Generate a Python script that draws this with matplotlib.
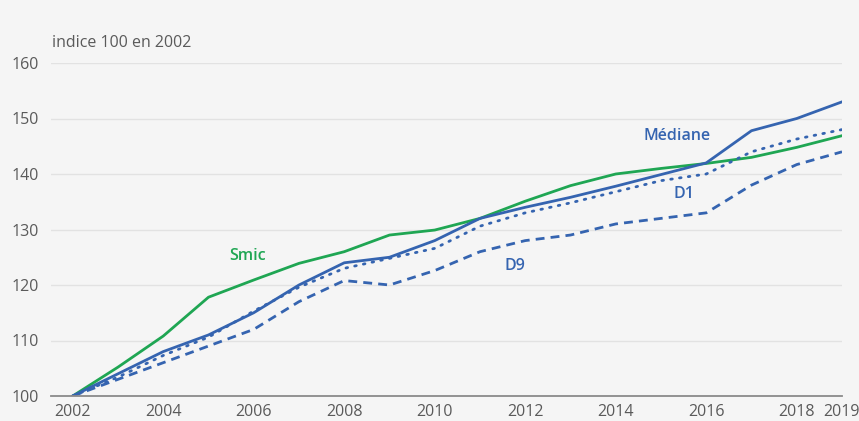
import matplotlib
matplotlib.use("Agg")
import matplotlib.pyplot as plt

plt.rcParams['font.family'] = ['Open Sans', 'DejaVu Sans']

years = list(range(2002, 2020))
smic = [100, 105.2, 110.8, 117.8, 120.9, 123.9, 126, 129, 129.9, 132, 135.1, 137.9, 140, 141, 141.9, 143, 144.8, 146.9]
mediane = [100, 104, 108, 111, 115, 120, 124, 125, 128, 132, 134, 135.8, 137.8, 139.9, 142, 147.8, 150, 153]
d1 = [100, 103.4, 107.3, 110.6, 115.3, 119.6, 123, 124.8, 126.6, 130.6, 133, 134.8, 136.8, 138.8, 140, 144, 146.3, 148]
d9 = [100, 103, 106, 109, 112, 117, 120.8, 120, 122.6, 126, 128, 129, 131, 132, 133, 138, 141.7, 144]
xticks = [2002, 2004, 2006, 2008, 2010, 2012, 2014, 2016, 2018, 2019]
yticks = [100, 110, 120, 130, 140, 150, 160]

GREEN = '#1fa653'
BLUE = '#3564b0'
TXT = '#5a5a5a'
BG = '#f5f5f5'
FS = 11.5

W, H = 859, 421
fig = plt.figure(figsize=(W / 100, H / 100), dpi=100, facecolor=BG)
ax = fig.add_axes([51 / W, (H - 396) / H, (842 - 51) / W, (396 - 63) / H])
ax.set_facecolor(BG)

lw = 2.0
ax.plot(years, smic, color=GREEN, lw=lw, zorder=3)
ax.plot(years, d9, color=BLUE, lw=lw, ls=(0, (3.2, 2.2)), zorder=3)
ax.plot(years, d1, color=BLUE, lw=lw, ls=(0, (0.6, 2.6)), dash_capstyle='round', zorder=3)
ax.plot(years, mediane, color=BLUE, lw=lw, zorder=4)

ax.set_xlim(2001.52, 2019)
ax.set_ylim(100, 160)
ax.set_yticks(yticks)
ax.set_xticks(xticks)
ax.set_xticklabels([str(x) for x in xticks])
ax.grid(axis='y', color='#e2e2e2', lw=1.0, zorder=0)
ax.grid(axis='x', visible=False)
for s in ['top', 'right', 'left']:
    ax.spines[s].set_visible(False)
ax.spines['bottom'].set_color('#8a8a8a')
ax.spines['bottom'].set_linewidth(1.3)
ax.spines['bottom'].set_zorder(5)
ax.tick_params(axis='both', length=0, labelsize=FS, colors=TXT)
ax.tick_params(axis='y', pad=9)
ax.tick_params(axis='x', pad=6)

fig.text(52 / W, (H - 43) / H, 'indice 100 en 2002', fontsize=FS, color=TXT, ha='left', va='center')

ax.text(2005.86, 125.2, 'Smic', color=GREEN, fontsize=FS, fontweight='semibold', ha='center', va='center')
ax.text(2015.36, 146.9, 'Médiane', color=BLUE, fontsize=FS, fontweight='semibold', ha='center', va='center')
ax.text(2015.5, 136.4, 'D1', color=BLUE, fontsize=FS, fontweight='semibold', ha='center', va='center')
ax.text(2011.78, 123.4, 'D9', color=BLUE, fontsize=FS, fontweight='semibold', ha='center', va='center')

fig.savefig('out.png', dpi=100, facecolor=BG)
